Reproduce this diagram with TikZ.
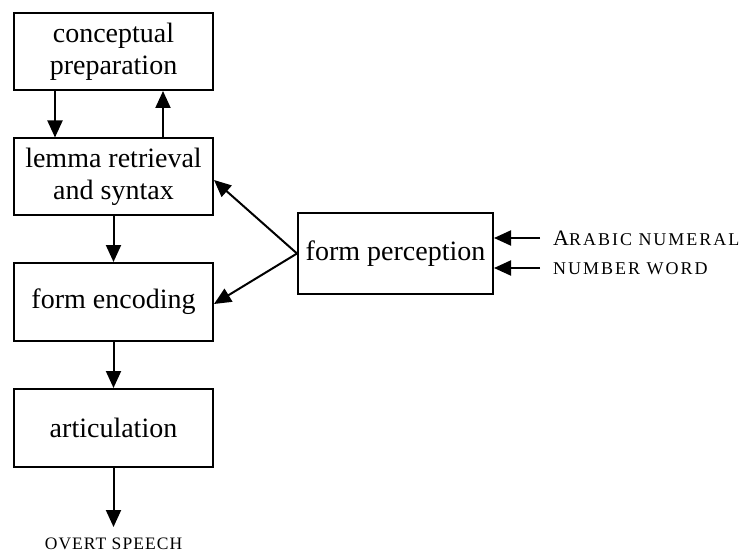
\documentclass[tikz,border=0pt]{standalone}
\usepackage{fontspec}
\setmainfont{Liberation Serif}
\usetikzlibrary{arrows.meta}
\tikzset{
  box/.style={draw, line width=2pt, inner sep=0pt, align=center, font=\fontsize{28}{32}\selectfont},
  arr/.style={line width=2pt, -{Triangle[length=17pt,width=15pt]}},
  lab/.style={inner sep=0pt, anchor=west},
}
\newcommand{\myBigCap}[1]{{\fontsize{22}{22}\selectfont #1}}
\newcommand{\mySmCap}[1]{{\fontsize{18}{18}\selectfont\addfontfeatures{LetterSpace=11}#1}}
\begin{document}
\begin{tikzpicture}[x=1pt,y=-1pt]
\useasboundingbox (0,0) rectangle (743,553);
\node[box, minimum width=199pt, minimum height=77pt] (cp) at (113.5,51.5) {conceptual\\preparation};
\node[box, minimum width=199pt, minimum height=77pt] (lr) at (113.5,177) {lemma retrieval\\and syntax};
\node[box, minimum width=199pt, minimum height=78pt] (fe) at (113.5,302) {form encoding};
\node[box, minimum width=199pt, minimum height=78pt] (ar) at (113.5,428) {articulation};
\node[box, minimum width=195pt, minimum height=80pt] (fp) at (395.5,253.5) {form perception};
\node[inner sep=0pt, font=\fontsize{17.5}{18}\selectfont\addfontfeatures{LetterSpace=6}] (os) at (113.5,544) {OVERT SPEECH};
\node[lab] (an) at (553,238) {\myBigCap{A}\mySmCap{RABIC NUMERAL}};
\node[lab] (nw) at (553,269) {\mySmCap{NUMBER WORD}};
\coordinate (anA) at (540,238);
\coordinate (nwA) at (540,268);
\coordinate (osA) at (113.5,527);
\draw[arr] (cp.south -| 55,0) -- (lr.north -| 55,0);
\draw[arr] (lr.north -| 163,0) -- (cp.south -| 163,0);
\draw[arr] (lr) -- (fe);
\draw[arr] (fe) -- (ar);
\draw[arr] (ar) -- (osA);
\draw[arr] (fp.west) -- (lr.east |- 0,180);
\draw[arr] (fp.west) -- (fe.east |- 0,304);
\draw[arr] (anA) -- (fp.east |- anA);
\draw[arr] (nwA) -- (fp.east |- nwA);
\end{tikzpicture}
\end{document}
